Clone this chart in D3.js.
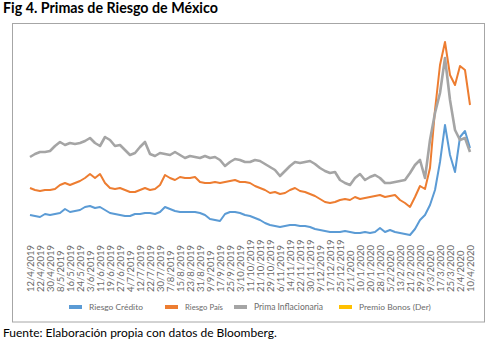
<!DOCTYPE html>
<html>
<head>
<meta charset="utf-8">
<script src="https://cdn.jsdelivr.net/npm/d3@7"></script>
<style>
  html, body { margin: 0; padding: 0; background: #fff; }
  svg { display: block; font-family: Lato, "Liberation Sans", sans-serif; }
</style>
</head>
<body>
<svg id="chart" width="490" height="357"></svg>
<script>
// ---- Data (units arbitrary, no y-axis shown) ----
const tickLabels = ["12/4/2019","22/4/2019","30/4/2019","8/5/2019","16/5/2019","24/5/2019","3/6/2019","11/6/2019","19/6/2019","27/6/2019","4/7/2019","12/7/2019","22/7/2019","30/7/2019","7/8/2019","15/8/2019","23/8/2019","31/8/2019","9/9/2019","17/9/2019","25/9/2019","3/10/2019","11/10/2019","21/10/2019","29/10/2019","6/11/2019","14/11/2019","22/11/2019","30/11/2019","9/12/2019","17/12/2019","25/12/2019","2/1/2020","10/1/2020","20/1/2020","28/1/2020","5/2/2020","13/2/2020","21/2/2020","29/2/2020","9/3/2020","17/3/2020","25/3/2020","2/4/2020","10/4/2020"];

const seriesNames = ["Riesgo Crédito", "Riesgo País", "Prima Inflacionaria", "Premio Bonos (Der)"];

const riesgoCredito = [90,88,86,92,90,92,94,102,96,98,
  100,106,108,104,106,100,94,92,90,88,
  88,92,92,94,94,92,96,106,102,98,
  96,96,96,96,94,90,82,80,78,92,
  96,96,94,90,88,84,80,74,70,68,
  66,68,70,70,68,68,66,62,60,58,
  56,56,56,58,56,54,54,56,54,56,
  64,56,60,56,54,52,50,62,80,90,
  110,140,196,270,210,176,246,258,224];

const riesgoPais = [144,140,138,140,140,142,150,154,150,154,
  158,164,172,164,172,154,144,142,144,140,
  136,136,140,144,140,142,150,170,164,160,
  166,164,164,166,156,154,154,156,154,156,
  158,160,156,156,154,148,144,140,134,136,
  132,134,140,144,138,136,132,128,122,116,
  114,116,120,122,120,126,122,124,126,128,
  130,126,128,130,120,114,106,126,148,142,
  184,300,390,436,370,350,388,380,310];

const primaInflacionaria = [206,212,216,216,218,228,236,230,234,232,
  234,238,244,234,228,246,240,228,230,220,
  210,214,226,236,212,208,214,212,210,216,
  210,204,208,206,204,208,204,206,200,188,
  196,202,200,196,196,200,198,192,186,180,
  168,178,188,196,194,196,198,192,184,178,
  174,176,160,154,150,164,172,160,166,170,
  164,154,154,156,158,160,174,190,200,164,
  240,294,334,404,320,260,240,244,216];

const premioBonos = []; // right-axis series, not visible in plotted range

const seriesColors = ["#5B9BD5", "#ED7D31", "#A5A5A5", "#FFC000"];

// ---- Chart ----
const svg = d3.select("#chart");

function fit(sel, w) {
  const len = sel.node().getComputedTextLength();
  const fs = parseFloat(sel.attr("font-size"));
  sel.attr("font-size", (fs * w / len).toFixed(2));
}

// Title
svg.append("text").attr("x", 3).attr("y", 13)
  .attr("font-size", 12).attr("font-weight", 700).attr("fill", "#000")
  .text("Fig 4. Primas de Riesgo de México").call(fit, 215);

// Frame
svg.append("rect").attr("x", 12.5).attr("y", 23.5).attr("width", 472).attr("height", 298.5)
  .attr("fill", "none").attr("stroke", "#A6A6A6").attr("stroke-width", 1);

const n = primaInflacionaria.length;
const x = d3.scaleLinear().domain([0, n - 1]).range([30, 470]);
const y = d3.scaleLinear().domain([0, 500]).range([260, 10]);

// X axis (labels only)
const tickIdx = tickLabels.map((d, i) => i * 2);
const xAxis = d3.axisBottom(x).tickValues(tickIdx)
  .tickFormat((d) => tickLabels[d / 2]).tickSize(0);
const gx = svg.append("g").attr("transform", "translate(0,292)").call(xAxis);
gx.select(".domain").remove();
gx.selectAll("text")
  .attr("font-family", "Lato, sans-serif")
  .attr("fill", "#6b6b6b")
  .attr("font-size", 8.5)
  .attr("text-anchor", "start")
  .attr("transform", "rotate(-90)")
  .attr("x", 0).attr("y", 0).attr("dy", "0.35em");
{
  const first = gx.select(".tick text");
  const len = first.node().getComputedTextLength();
  const fs = 8.5 * 47 / len;
  gx.selectAll("text").attr("font-size", fs.toFixed(2));
}

// Lines
const line = d3.line().x((d, i) => x(i)).y(d => y(d)).curve(d3.curveLinear);
const data = [riesgoCredito, riesgoPais, primaInflacionaria, premioBonos];
const widths = [2, 2, 2.6, 2];
data.forEach((s, k) => {
  if (!s.length) return;
  svg.append("path").datum(s)
    .attr("fill", "none")
    .attr("stroke", seriesColors[k])
    .attr("stroke-width", widths[k])
    .attr("stroke-linejoin", "round")
    .attr("d", line);
});

// Legend
const legendX = [69, 165, 234, 339];
const legendW = [54, 38, 69, 72];
const lg = svg.append("g");
seriesNames.forEach((name, k) => {
  lg.append("rect").attr("x", legendX[k]).attr("y", 305).attr("width", 13).attr("height", 4)
    .attr("fill", seriesColors[k]);
  lg.append("text").attr("x", legendX[k] + 20).attr("y", 310)
    .attr("font-size", 8.5).attr("fill", "#6b6b6b").text(name).call(fit, legendW[k]);
});

// Footer
svg.append("text").attr("x", 3).attr("y", 337)
  .attr("font-size", 11).attr("fill", "#000")
  .text("Fuente: Elaboración propia con datos de Bloomberg.").call(fit, 274);
</script>
</body>
</html>
